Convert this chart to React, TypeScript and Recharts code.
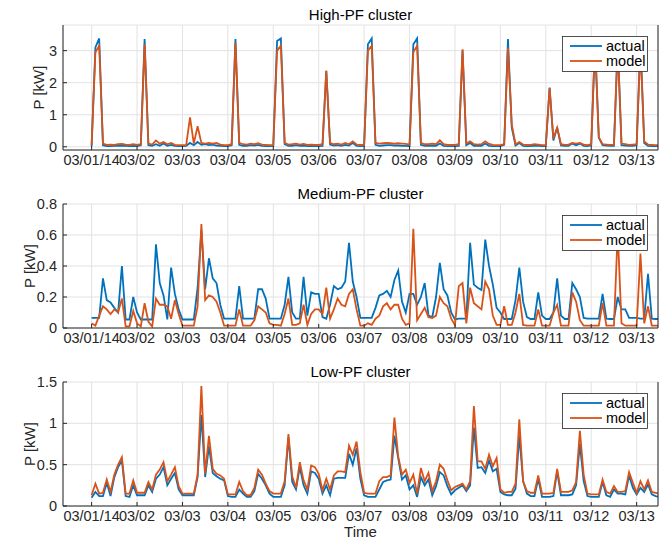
import React from "react";
import { LineChart, Line, XAxis, YAxis, CartesianGrid } from "recharts";

// tick labels on the time axis (one per day, 03/01 = 0)
const DAY_LABELS = ["03/01/14", "03/02", "03/03", "03/04", "03/05", "03/06", "03/07", "03/08", "03/09", "03/10", "03/11", "03/12", "03/13"];
const SERIES_NAMES = ["actual", "model"];
const TITLES = ["High-PF cluster", "Medium-PF cluster", "Low-PF cluster"];

// samples every 2 hours, one row per day
const highActual = [
  0.02, 3.1, 3.38, 0.05, 0.02, 0.02, 0.03, 0.03, 0.04, 0.03, 0.02, 0.03,
  0.02, 0.05, 3.36, 0.05, 0.03, 0.08, 0.03, 0.1, 0.03, 0.06, 0.03, 0.02,
  0.02, 0.03, 0.12, 0.05, 0.15, 0.06, 0.08, 0.05, 0.07, 0.04, 0.03, 0.02,
  0.02, 0.05, 3.36, 0.06, 0.03, 0.03, 0.05, 0.04, 0.06, 0.03, 0.02, 0.02,
  0.03, 3.3, 3.38, 0.08, 0.03, 0.03, 0.05, 0.03, 0.04, 0.02, 0.03, 0.02,
  0.02, 0.03, 2.37, 0.07, 0.04, 0.05, 0.03, 0.06, 0.04, 0.12, 0.03, 0.02,
  0.03, 3.2, 3.38, 0.06, 0.03, 0.04, 0.05, 0.05, 0.04, 0.04, 0.03, 0.03,
  0.02, 3.2, 3.38, 0.06, 0.03, 0.03, 0.04, 0.03, 0.1, 0.03, 0.02, 0.02,
  0.02, 0.03, 3.0, 0.05, 0.12, 0.03, 0.03, 0.03, 0.1, 0.03, 0.02, 0.02,
  0.02, 0.06, 3.36, 0.6, 0.04, 0.12, 0.03, 0.02, 0.02, 0.04, 0.03, 0.02,
  0.03, 1.85, 0.2, 0.6, 0.04, 0.03, 0.03, 0.1, 0.05, 0.1, 0.03, 0.02,
  0.05, 3.3, 0.28, 0.05, 0.04, 0.03, 0.03, 3.2, 0.05, 0.04, 0.03, 0.03,
  0.05, 3.35, 0.12, 0.03, 0.02, 0.02, 0.02,
];
const highModel = [
  0.06, 2.95, 3.15, 0.1, 0.06, 0.07, 0.06, 0.08, 0.09, 0.07, 0.06, 0.08,
  0.06, 0.08, 3.2, 0.1, 0.07, 0.2, 0.1, 0.15, 0.08, 0.12, 0.06, 0.05,
  0.05, 0.06, 0.92, 0.1, 0.64, 0.12, 0.1, 0.12, 0.1, 0.12, 0.07, 0.05,
  0.05, 0.08, 3.25, 0.12, 0.08, 0.07, 0.1, 0.08, 0.11, 0.07, 0.06, 0.05,
  0.06, 3.0, 3.15, 0.12, 0.07, 0.08, 0.1, 0.07, 0.09, 0.06, 0.07, 0.06,
  0.06, 0.08, 2.37, 0.12, 0.08, 0.1, 0.07, 0.12, 0.08, 0.17, 0.07, 0.06,
  0.07, 3.0, 3.15, 0.12, 0.1, 0.11, 0.12, 0.11, 0.1, 0.11, 0.1, 0.09,
  0.07, 2.95, 3.15, 0.12, 0.08, 0.08, 0.1, 0.08, 0.2, 0.08, 0.06, 0.06,
  0.06, 0.08, 3.04, 0.1, 0.17, 0.08, 0.07, 0.08, 0.17, 0.09, 0.06, 0.05,
  0.05, 0.08, 3.1, 0.7, 0.08, 0.15, 0.07, 0.06, 0.06, 0.08, 0.07, 0.05,
  0.06, 1.83, 0.25, 0.6, 0.08, 0.06, 0.07, 0.12, 0.1, 0.12, 0.07, 0.05,
  0.08, 3.2, 0.3, 0.08, 0.07, 0.06, 0.07, 3.2, 0.1, 0.08, 0.06, 0.07,
  0.08, 3.1, 0.17, 0.07, 0.06, 0.05, 0.05,
];

const mediumActual = [
  0.065, 0.065, 0.065, 0.32, 0.18, 0.165, 0.13, 0.1, 0.4, 0.055, 0.055, 0.2,
  0.1, 0.055, 0.055, 0.055, 0.055, 0.54, 0.29, 0.21, 0.055, 0.39, 0.22, 0.12,
  0.055, 0.055, 0.055, 0.055, 0.26, 0.63, 0.25, 0.45, 0.32, 0.29, 0.15, 0.06,
  0.06, 0.06, 0.06, 0.27, 0.06, 0.06, 0.06, 0.06, 0.25, 0.25, 0.19, 0.06,
  0.06, 0.06, 0.06, 0.15, 0.33, 0.1, 0.06, 0.06, 0.33, 0.08, 0.23, 0.22,
  0.22, 0.07, 0.06, 0.15, 0.27, 0.25, 0.26, 0.3, 0.55, 0.3, 0.2, 0.065,
  0.065, 0.065, 0.065, 0.13, 0.21, 0.22, 0.24, 0.2, 0.31, 0.37, 0.17, 0.1,
  0.22, 0.22, 0.15, 0.2, 0.29, 0.08, 0.07, 0.2, 0.42, 0.25, 0.21, 0.1,
  0.055, 0.06, 0.06, 0.06, 0.55, 0.28, 0.26, 0.245, 0.57, 0.4, 0.28, 0.13,
  0.1, 0.058, 0.058, 0.058, 0.18, 0.39, 0.17, 0.07, 0.058, 0.058, 0.23, 0.08,
  0.058, 0.058, 0.1, 0.32, 0.08, 0.058, 0.058, 0.29, 0.25, 0.2, 0.065, 0.06,
  0.06, 0.06, 0.06, 0.22, 0.06, 0.058, 0.058, 0.2, 0.12, 0.12, 0.065, 0.065,
  0.065, 0.06, 0.06, 0.35, 0.06, 0.058, 0.058,
];
const mediumModel = [
  0.03, 0.015, 0.08, 0.14, 0.12, 0.09, 0.12, 0.1, 0.19, 0.01, 0.01, 0.11,
  0.03, 0.01, 0.16, 0.04, 0.01, 0.19, 0.15, 0.15, 0.14, 0.06, 0.18, 0.09,
  0.015, 0.015, 0.015, 0.015, 0.14, 0.67, 0.18, 0.21, 0.2, 0.17, 0.1, 0.015,
  0.015, 0.015, 0.015, 0.12, 0.015, 0.015, 0.015, 0.05, 0.14, 0.12, 0.1, 0.03,
  0.02, 0.02, 0.015, 0.09, 0.19, 0.02, 0.02, 0.03, 0.15, 0.02, 0.09, 0.12,
  0.12, 0.09, 0.26, 0.06, 0.12, 0.19, 0.15, 0.14, 0.22, 0.25, 0.12, 0.015,
  0.015, 0.03, 0.02, 0.06, 0.08, 0.14, 0.16, 0.12, 0.15, 0.15, 0.06, 0.02,
  0.03, 0.64, 0.05, 0.09, 0.13, 0.07, 0.065, 0.08, 0.2, 0.16, 0.14, 0.06,
  0.02, 0.27, 0.29, 0.03, 0.26, 0.16, 0.14, 0.12, 0.3, 0.25, 0.08, 0.02,
  0.02, 0.14, 0.02, 0.02, 0.1, 0.22, 0.02, 0.015, 0.015, 0.015, 0.12, 0.015,
  0.015, 0.015, 0.1, 0.15, 0.015, 0.015, 0.015, 0.23, 0.17, 0.05, 0.015, 0.015,
  0.015, 0.015, 0.015, 0.16, 0.015, 0.015, 0.015, 0.62, 0.03, 0.015, 0.015, 0.015,
  0.015, 0.48, 0.03, 0.14, 0.015, 0.015, 0.015,
];

const lowActual = [
  0.1, 0.17, 0.12, 0.12, 0.28, 0.12, 0.35, 0.47, 0.55, 0.12, 0.11, 0.25,
  0.13, 0.13, 0.13, 0.25, 0.17, 0.33, 0.38, 0.47, 0.25, 0.33, 0.4, 0.2,
  0.13, 0.13, 0.13, 0.13, 0.35, 1.1, 0.35, 0.72, 0.4, 0.36, 0.33, 0.31,
  0.12, 0.11, 0.11, 0.2, 0.15, 0.11, 0.11, 0.18, 0.39, 0.33, 0.25, 0.15,
  0.11, 0.11, 0.11, 0.25, 0.83, 0.29, 0.2, 0.47, 0.25, 0.15, 0.42, 0.4,
  0.33, 0.15, 0.25, 0.13, 0.33, 0.34, 0.34, 0.34, 0.63, 0.5, 0.7, 0.33,
  0.13, 0.11, 0.11, 0.11, 0.2, 0.29, 0.31, 0.32, 0.85, 0.58, 0.32, 0.37,
  0.2, 0.25, 0.11, 0.35, 0.25, 0.32, 0.13, 0.24, 0.41, 0.37, 0.24, 0.14,
  0.19, 0.22, 0.25, 0.18, 0.25, 0.95, 0.46, 0.47, 0.4, 0.55, 0.42, 0.45,
  0.17, 0.14, 0.13, 0.13, 0.21, 0.85, 0.3, 0.15, 0.12, 0.12, 0.33, 0.11,
  0.11, 0.11, 0.12, 0.42, 0.13, 0.13, 0.13, 0.14, 0.25, 0.75, 0.3, 0.12,
  0.11, 0.11, 0.11, 0.29, 0.13, 0.11, 0.2, 0.15, 0.15, 0.14, 0.37, 0.22,
  0.14, 0.22, 0.17, 0.26, 0.14, 0.12, 0.11,
];
const lowModel = [
  0.13, 0.27, 0.15, 0.16, 0.32, 0.17, 0.38, 0.5, 0.59, 0.15, 0.15, 0.31,
  0.16, 0.16, 0.16, 0.29, 0.2, 0.38, 0.44, 0.53, 0.3, 0.38, 0.47, 0.24,
  0.15, 0.15, 0.15, 0.15, 0.38, 1.45, 0.39, 0.85, 0.45, 0.39, 0.37, 0.33,
  0.14, 0.14, 0.14, 0.29, 0.18, 0.13, 0.13, 0.22, 0.44, 0.38, 0.27, 0.18,
  0.15, 0.15, 0.15, 0.3, 0.87, 0.36, 0.22, 0.53, 0.31, 0.2, 0.49, 0.47,
  0.39, 0.19, 0.33, 0.2, 0.37, 0.42, 0.42, 0.41, 0.73, 0.62, 0.78, 0.41,
  0.16, 0.15, 0.15, 0.15, 0.3, 0.35, 0.35, 0.37, 1.07, 0.6, 0.38, 0.44,
  0.28, 0.38, 0.15, 0.46, 0.3, 0.4, 0.18, 0.3, 0.5, 0.45, 0.31, 0.19,
  0.23, 0.25, 0.27, 0.2, 0.3, 1.21, 0.54, 0.54, 0.45, 0.62, 0.48, 0.58,
  0.2, 0.16, 0.17, 0.17, 0.27, 1.05, 0.3, 0.18, 0.16, 0.16, 0.37, 0.15,
  0.15, 0.15, 0.16, 0.45, 0.17, 0.17, 0.17, 0.19, 0.29, 0.91, 0.38, 0.15,
  0.14, 0.14, 0.14, 0.32, 0.17, 0.15, 0.24, 0.17, 0.17, 0.18, 0.41, 0.28,
  0.16, 0.3, 0.2, 0.31, 0.17, 0.16, 0.15,
];

const highTicks = [0, 1, 2, 3];
const mediumTicks = [0, 0.2, 0.4, 0.6, 0.8];
const lowTicks = [0, 0.5, 1, 1.5];

const FONT = "'Liberation Sans', Arial, Helvetica, sans-serif";
const AXIS = "#262626";
const BLUE = "#0072BD";
const ORANGE = "#D95319";
const W = 665;
const X_DOMAIN = [-0.63, 12.47];
const X_TICKS = DAY_LABELS.map((_, i) => i);

const toRows = (actual: number[], model: number[]) =>
  actual.map((v, i) => ({ t: i / 12, a: v, m: model[i] }));

const panels = [
  { title: TITLES[0], rows: toRows(highActual, highModel), top: 0, plotTop: 25, plotH: 125, domain: [-0.1, 3.8], ticks: highTicks, labelX: 38 },
  { title: TITLES[1], rows: toRows(mediumActual, mediumModel), top: 178, plotTop: 204, plotH: 124, domain: [0, 0.8], ticks: mediumTicks, labelX: 29 },
  { title: TITLES[2], rows: toRows(lowActual, lowModel), top: 356, plotTop: 382, plotH: 124, domain: [0, 1.5], ticks: lowTicks, labelX: 29 },
];

const Panel = ({ p }: { p: any }) => {
  const mt = p.plotTop - p.top;
  return (
    <div style={{ position: "absolute", left: 0, top: p.top }}>
      <LineChart width={W} height={mt + p.plotH + 26} data={p.rows} margin={{ top: mt, right: 0, bottom: 0, left: 0 }}>
        <CartesianGrid stroke="#e2e2e2" />
        <XAxis
          dataKey="t"
          type="number"
          domain={X_DOMAIN}
          ticks={X_TICKS}
          interval={0}
          allowDataOverflow
          height={26}
          tickSize={-4}
          tickMargin={9}
          stroke={AXIS}
          tick={{ fill: AXIS, fontSize: 14.5, fontFamily: FONT }}
          tickFormatter={(v: number) => DAY_LABELS[Math.round(v)]}
        />
        <XAxis xAxisId="top" orientation="top" dataKey="t" type="number" domain={X_DOMAIN} ticks={X_TICKS} interval={0} allowDataOverflow height={0} tick={false} tickSize={-4} stroke={AXIS} />
        <YAxis
          type="number"
          domain={p.domain}
          ticks={p.ticks}
          interval={0}
          allowDataOverflow
          width={63}
          tickSize={-4}
          tickMargin={10}
          stroke={AXIS}
          tick={{ fill: AXIS, fontSize: 14.5, fontFamily: FONT }}
          tickFormatter={(v: number) => String(v)}
        />
        <YAxis yAxisId="r" orientation="right" type="number" domain={p.domain} ticks={p.ticks} interval={0} allowDataOverflow width={7} tick={false} tickSize={-4} stroke={AXIS} />
        <Line type="linear" dataKey="a" stroke={BLUE} strokeWidth={1.8} dot={false} isAnimationActive={false} />
        <Line type="linear" dataKey="m" stroke={ORANGE} strokeWidth={1.8} dot={false} isAnimationActive={false} />
      </LineChart>
    </div>
  );
};

export default function App() {
  return (
    <div style={{ position: "absolute", left: 0, top: 0, width: W, height: 541, background: "#fff", fontFamily: FONT }}>
      {panels.map((p, i) => (
        <Panel key={i} p={p} />
      ))}
      <svg width={W} height={541} style={{ position: "absolute", left: 0, top: 0, pointerEvents: "none" }}>
        {panels.map((p, i) => {
          const lt = p.plotTop + 11;
          const cy = p.plotTop + p.plotH / 2;
          return (
            <g key={i} fontFamily={FONT}>
              <text x={360.5} y={p.plotTop - 5} textAnchor="middle" fontSize={15} fill="#000">
                {p.title}
              </text>
              <text
                x={p.labelX}
                y={cy}
                textAnchor="middle"
                dominantBaseline="central"
                fontSize={15}
                fill={AXIS}
                transform={`rotate(-90 ${p.labelX} ${cy})`}
              >
                P [kW]
              </text>
              <rect x={562.5} y={lt + 0.5} width={85} height={35} fill="#fff" stroke={AXIS} strokeWidth={0.8} />
              <line x1={570} x2={602} y1={lt + 10} y2={lt + 10} stroke={BLUE} strokeWidth={1.8} />
              <line x1={570} x2={602} y1={lt + 25} y2={lt + 25} stroke={ORANGE} strokeWidth={1.8} />
              <text x={606} y={lt + 15} fontSize={14.5} fill="#000">{SERIES_NAMES[0]}</text>
              <text x={606} y={lt + 30} fontSize={14.5} fill="#000">{SERIES_NAMES[1]}</text>
            </g>
          );
        })}
        <text x={360.5} y={537} textAnchor="middle" fontSize={15} fontFamily={FONT} fill={AXIS}>
          Time
        </text>
      </svg>
    </div>
  );
}
